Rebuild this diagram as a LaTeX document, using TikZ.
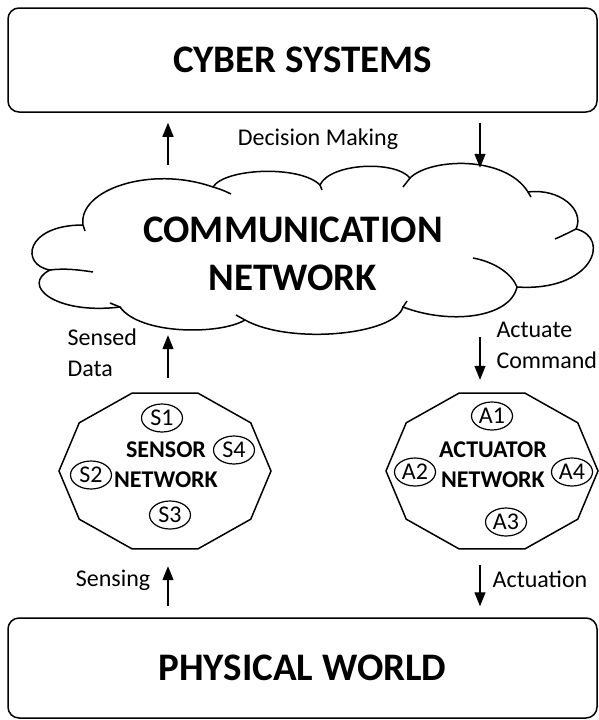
\documentclass[tikz,border=0pt]{standalone}
\usepackage{fontspec}
\setmainfont{Carlito}
\usetikzlibrary{shapes,arrows.meta,positioning}

\begin{document}
\begin{tikzpicture}[x=1pt,y=-1pt]

  \tikzset{main node/.style={rectangle, draw, line width=1.5pt,
  		text centered, rounded corners=11pt, minimum width=589pt,
  		font=\bfseries\fontsize{39}{44}\selectfont}, }
  \tikzset{dev node/.style={ellipse, draw, line width=1.2pt, inner sep=0pt,
  		minimum width=41pt, minimum height=28pt, font=\fontsize{24}{28}\selectfont}, }
  \tikzset{net text/.style={align=center, font=\bfseries\fontsize{24}{30}\selectfont}, }
  \tikzset{lab/.style={align=left, font=\fontsize{24}{31}\selectfont}, }
  \tikzset{linea/.style={-{Triangle[width=11pt,length=14pt]}, line width=1.3pt}, }
  \tikzset{puff/.style={line width=1.5pt}, }
  \useasboundingbox (0,0) rectangle (598,720);

\node[main node, minimum height=104pt] (cy) at (302.5,60) {CYBER SYSTEMS};
\node[main node, minimum height=100pt] (pw) at (302.5,668) {PHYSICAL WORLD};

% cloud
\node[minimum width=562pt, minimum height=165pt] (cn) at (311,250.5) {};
\draw[puff] (83,225) .. controls (78,190) and (150,165) .. (213,187)
  .. controls (225,168) and (300,165) .. (320,185)
  .. controls (330,163) and (395,160) .. (410,178)
  .. controls (430,158) and (505,155) .. (528,192)
  .. controls (560,188) and (585,210) .. (576,229)
  .. controls (612,238) and (592,292) .. (517,287)
  .. controls (510,318) and (450,325) .. (403,307)
  .. controls (395,335) and (290,345) .. (245,320)
  .. controls (220,335) and (140,335) .. (120,307)
  .. controls (55,315) and (20,285) .. (50,270)
  .. controls (20,265) and (25,225) .. cycle;
\draw[puff] (83,225) -- (85,231);
\draw[puff] (213,187) .. controls (220,189) and (225,191) .. (231,194);
\draw[puff] (320,185) -- (322,190);
\draw[puff] (403,187) -- (410,178);
\draw[puff] (528,192) -- (531,197);
\draw[puff] (576,229) .. controls (568,233) and (562,236) .. (555,239);
\draw[puff] (473,258) .. controls (495,262) and (512,274) .. (517,287);
\draw[puff] (403,307) -- (407,301);
\draw[puff] (245,320) -- (236,315);
\draw[puff] (120,307) -- (110,303);
\draw[puff] (50,270) .. controls (65,268) and (80,270) .. (93,272);
\node[align=center, font=\bfseries\fontsize{39}{48}\selectfont] (ct) at (293,254) {COMMUNICATION\\NETWORK};

% sensor and actuator networks
\node[minimum width=212pt, minimum height=164pt] (sn) at (165,471) {};
\node[minimum width=212pt, minimum height=164pt] (an) at (492,471) {};
\foreach \n in {sn,an}
  \draw[line width=1.5pt, shift={(\n)}, xscale=106, yscale=82] (0:1)
    foreach \a in {36,72,...,324} {-- (\a:1)} -- cycle;

\node[net text] (st) at (166,465) {SENSOR\\NETWORK};
\node[net text] (at) at (493,465) {ACTUATOR\\NETWORK};

\node[dev node] (s1) at (162,418) {S1};
\node[dev node] (s2) at (91,475) {S2};
\node[dev node] (s3) at (170,515) {S3};
\node[dev node] (s4) at (234,450) {S4};
\node[dev node] (a1) at (492,416) {A1};
\node[dev node] (a2) at (415,472) {A2};
\node[dev node] (a3) at (506,522) {A3};
\node[dev node] (a4) at (572,472) {A4};

% labels
\node[lab] (dm) at (318,139) {Decision Making};
\node[lab, anchor=west] (sd) at (64,353) {Sensed\\Data};
\node[lab, anchor=west] (ac) at (493,345) {Actuate\\Command};
\node[lab] (se) at (113,580) {Sensing};
\node[lab] (au) at (540,579) {Actuation};

\coordinate (xl) at (168,0);
\coordinate (xr) at (480,0);

\draw[linea, shorten <=3pt, shorten >=10pt] (cn.north -| xl) -- (cy.south -| xl);
\draw[linea, shorten <=10pt] (cy.south -| xr) -- (cn.north -| xr);
\draw[linea, shorten <=11pt, shorten >=2pt] (sn.north -| xl) -- (cn.south -| xl);
\draw[linea, shorten <=4pt, shorten >=9pt] (cn.south -| xr) -- (an.north -| xr);
\draw[linea, shorten <=11pt, shorten >=13pt] (pw.north -| xl) -- (sn.south -| xl);
\draw[linea, shorten <=12pt, shorten >=11pt] (an.south -| xr) -- (pw.north -| xr);
%%
\end{tikzpicture}
\end{document}
